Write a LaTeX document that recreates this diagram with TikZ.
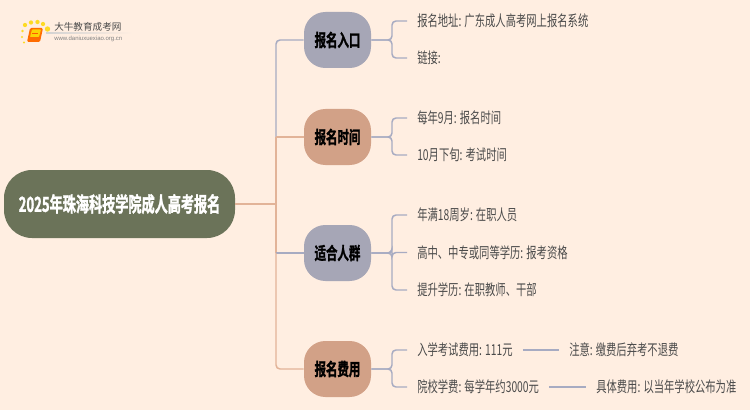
\documentclass[tikz,border=0pt]{standalone}
\usepackage{fontspec}
\setmainfont{Liberation Sans}
\newfontfamily\cjk[FakeStretch=0.685]{Noto Sans CJK SC}
\newfontfamily\cjkroot[FakeStretch=0.635,FakeBold=1.5]{Noto Sans CJK SC Bold}
\newfontfamily\cjkbranch[FakeStretch=0.66,FakeBold=1.5]{Noto Sans CJK SC Bold}
\newfontfamily\cjklogo{Noto Sans CJK SC}
\usepackage{tikz}
\definecolor{paper}{HTML}{FFEEE1}
\definecolor{rootgreen}{HTML}{6B7359}
\definecolor{slate}{HTML}{A6A6B6}
\definecolor{clay}{HTML}{D2A187}
\definecolor{slateline}{HTML}{A7ABC2}
\definecolor{clayline}{HTML}{E2B398}
\definecolor{inkgray}{HTML}{4A4A4A}
\tikzset{
	rootbox/.style={draw=none,fill=rootgreen,text=white,rounded corners=21pt,minimum width=173.25pt,minimum height=51pt,inner sep=0pt,font=\cjkroot\fontsize{15.5}{16}\selectfont},
	branchbox/.style={draw=none,text=black,rounded corners=16pt,minimum width=50.25pt,minimum height=42pt,inner sep=0pt,font=\cjkbranch\fontsize{13}{14}\selectfont},
	leafbox/.style={anchor=west,inner xsep=7.5pt,inner ysep=2pt,text=inkgray,font=\cjk\fontsize{11.3}{13}\selectfont},
	slatelink/.style={draw=slateline,line width=1.1pt,rounded corners=3pt},
	claylink/.style={draw=clayline,line width=1.1pt,rounded corners=3pt},
	logodot/.style={fill=#1,draw=none,opacity=0.85},
}
\begin{document}
\begin{tikzpicture}[x=0.75pt,y=-0.75pt]
	\useasboundingbox[fill=paper] (0,0) rectangle (750,410);
	% logo
	\foreach \px/\py/\pr in {25/25/1.6,31/22.5/1.6,37.5/22/1.6,43/24/1.6,47.5/29/2,22.5/31/1.1,22/37/0.9,24/42.5/0.8}
		\fill[logodot=yellow!75!orange] (\px,\py) circle (\pr pt);
	\fill[orange!85!red,rounded corners=1pt] (30,28) -- (43,28) -- (40,42) -- (27,42) -- cycle;
	\fill[yellow!70!orange,rounded corners=0.5pt] (32,29.5) -- (41,29.5) -- (39,37) -- (30,37) -- cycle;
	\draw[orange!70!red,line width=0.4pt] (32,33) -- (38,33);
	\node[inner sep=0pt,anchor=west,text=inkgray,font=\cjklogo\fontsize{7.2}{8}\selectfont] (logotitle) at (54,27) {大牛教育成考网};
	\node[inner sep=0pt,anchor=west,text=gray,font=\fontsize{4.5}{5}\selectfont] (logourl) at (54,38.5) {www.daniuxuexiao.org.cn};
	\shade[left color=gray!35,right color=paper] (46,33) rectangle (132,33.6);
	% nodes
	\node[rootbox] (root) at (119.5,204) {2025年珠海科技学院成人高考报名};
	\node[branchbox,fill=slate] (entry) at (337.5,40) {报名入口};
	\node[branchbox,fill=clay] (time) at (337.5,137) {报名时间};
	\node[branchbox,fill=slate] (crowd) at (337.5,253) {适合人群};
	\node[branchbox,fill=clay] (fee) at (337.5,369) {报名费用};
	\coordinate (trunk) at (276,204);
	\coordinate (fork) at (392,204);
	\node[leafbox] (addr) at (407,21) {报名地址: 广东成人高考网上报名系统};
	\node[leafbox] (link) at (407,58) {链接:};
	\node[leafbox] (month) at (407,118) {每年9月: 报名时间};
	\node[leafbox] (exam) at (407,155) {10月下旬: 考试时间};
	\node[leafbox] (age) at (407,215) {年满18周岁: 在职人员};
	\node[leafbox] (school) at (407,252.5) {高中、中专或同等学历: 报考资格};
	\node[leafbox] (raise) at (407,290) {提升学历: 在职教师、干部};
	\node[leafbox] (cost) at (407,350) {入学考试费用: 111元};
	\node[leafbox] (tuition) at (407,387) {院校学费: 每学年约3000元};
	\node[leafbox] (note) at (559,350) {注意: 缴费后弃考不退费};
	\node[leafbox] (detail) at (586,387) {具体费用: 以当年学校公布为准};
	% trunk
	\draw[claylink] (root.east) -- (trunk);
	\draw[slatelink] (time.west -| trunk) |- (entry.west);
	\draw[claylink] (time.west -| trunk) -- (time.west);
	\draw[claylink] (time.west -| trunk) -- (crowd.west -| trunk);
	\draw[slatelink] (crowd.west -| trunk) -- (crowd.west);
	\draw[claylink] (crowd.west -| trunk) |- (fee.west);
	% leaves
	\foreach \from/\to in {entry/addr,entry/link,time/month,time/exam,crowd/age,crowd/school,crowd/raise,fee/cost,fee/tuition}
		\draw[slatelink] (\from.east) -- (\from.east -| fork) |- (\to.west);
	\draw[slatelink] (cost.east) -- (note.west);
	\draw[slatelink] (tuition.east) -- (detail.west);
\end{tikzpicture}
\end{document}
